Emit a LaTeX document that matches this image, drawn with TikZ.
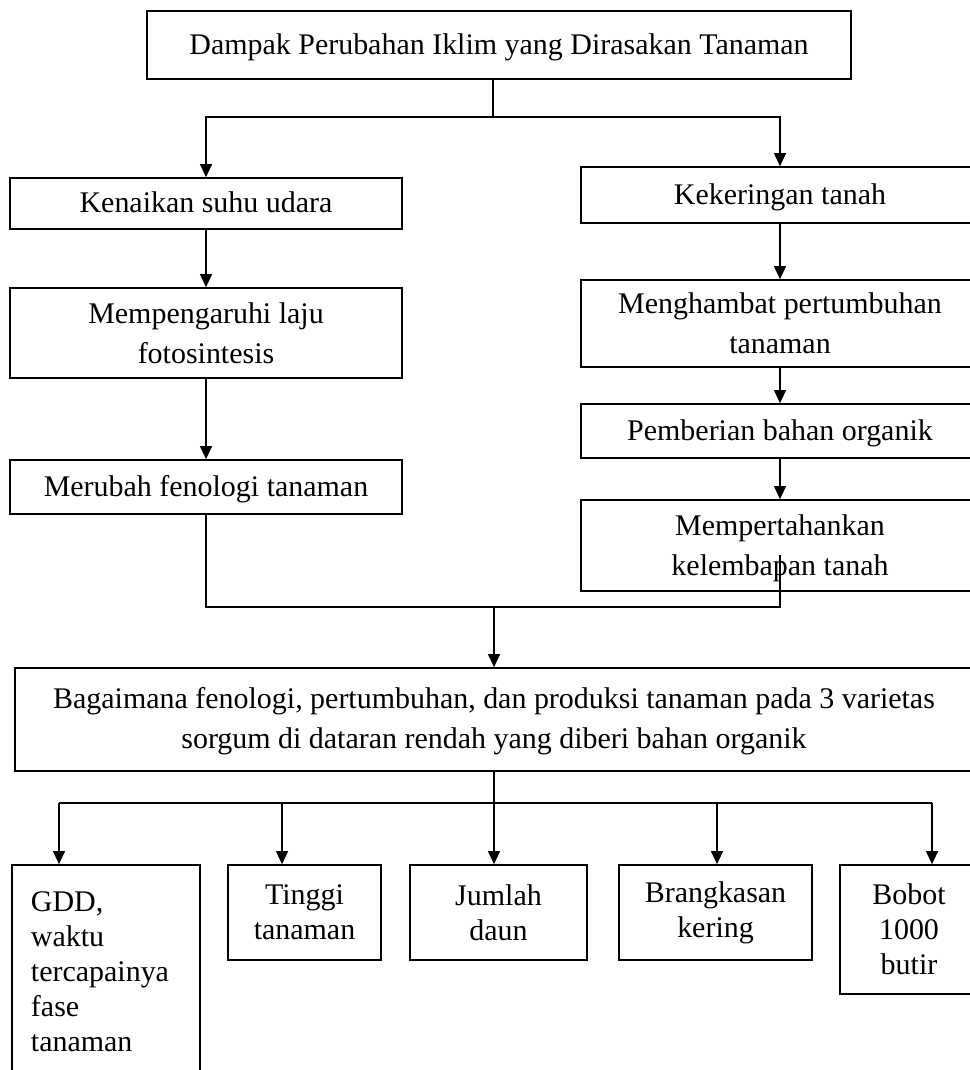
\documentclass[tikz,border=0pt]{standalone}
\usepackage{fontspec}
\setmainfont{Liberation Serif}
\usetikzlibrary{arrows.meta}
\usetikzlibrary{positioning}

\begin{document}
\begin{tikzpicture}[x=0.025cm, y=-0.025cm, line width=1.1pt]
	\useasboundingbox (0,0) rectangle (969,1070);
	\begin{scope}[every node/.style={draw, rectangle, inner sep=0pt, align=center, text depth=0.06cm,
	              font=\fontsize{21.3pt}{28.45pt}\selectfont}]
		\node[minimum width=17.6cm, minimum height=1.7cm] (dampak) at (499,45) {Dampak Perubahan Iklim yang Dirasakan Tanaman};
		% kolom kiri
		\node[minimum width=9.8cm, minimum height=1.275cm] (kenaikan) at (206,203.5) {Kenaikan suhu udara};
		\node[minimum width=9.8cm, minimum height=2.25cm, text depth=-0.09cm] (laju) at (206,333) {Mempengaruhi laju\\fotosintesis};
		\node[minimum width=9.8cm, minimum height=1.35cm] (fenologi) at (206,487) {Merubah fenologi tanaman};
		% kolom kanan
		\node[minimum width=9.95cm, minimum height=1.4cm] (kering) at (780,195) {Kekeringan tanah};
		\node[minimum width=9.95cm, minimum height=2.175cm, text depth=-0.09cm] (hambat) at (780,323.5) {Menghambat pertumbuhan\\tanaman};
		\node[minimum width=9.95cm, minimum height=1.35cm] (organik) at (780,431) {Pemberian bahan organik};
		\node[minimum width=9.95cm, minimum height=2.275cm, text depth=-0.12cm] (lembab) at (780,545.5) {Mempertahankan\\kelembapan tanah};
		% pertanyaan
		\node[minimum width=23.95cm, minimum height=2.575cm, text depth=0.1cm] (tanya) at (494,719.5) {Bagaimana fenologi, pertumbuhan, dan produksi tanaman pada 3 varietas\\sorgum di dataran rendah yang diberi bahan organik};
	\end{scope}

	\begin{scope}[every node/.style={draw, rectangle, inner sep=0pt, align=center,
	              font=\fontsize{21.3pt}{24.9pt}\selectfont}]
		\node[minimum width=4.7cm, minimum height=5.325cm, text width=3.75cm, align=left] (gdd) at (106,971.5) {GDD,\\waktu\\tercapainya\\fase\\tanaman};
		\node[minimum width=3.825cm, minimum height=2.375cm] (tinggi) at (304.5,912.5) {Tinggi\\tanaman};
		\node[minimum width=4.425cm, minimum height=2.375cm] (daun) at (498.5,912.5) {Jumlah\\daun};
		\node[minimum width=4.825cm, minimum height=2.375cm] (brangkas) at (715.5,912.5) {Brangkasan\\kering};
		\node[minimum width=3.45cm, minimum height=3.225cm] (bobot) at (909,929.5) {Bobot\\1000\\butir};
	\end{scope}

	\coordinate (split) at (493,117);
	\coordinate (merge) at (780,607);
	\coordinate (stub) at (780,555);
	\coordinate (b1) at (59,803);
	\coordinate (b2) at (282,803);
	\coordinate (b4) at (717,803);
	\coordinate (b5) at (932,803);

	\begin{scope}[>={Triangle[width=0.3cm, length=0.33cm]}]
		\draw (dampak.south -| split) -- (split);
		\draw[->] (split) -| (kenaikan.north);
		\draw[->] (split) -| (kering.north);
		\draw[->] (kenaikan) -- (laju);
		\draw[->] (laju) -- (fenologi);
		\draw[->] (kering) -- (hambat);
		\draw[->] (hambat) -- (organik);
		\draw[->] (organik) -- (lembab);
		\draw (fenologi.south) |- (merge) -- (stub);
		\draw[->] (tanya.north |- merge) -- (tanya.north);
		\draw[->] (tanya.south) -- (tanya.south |- daun.north);
		\draw (b1) -- (b5);
		\foreach \b/\n in {b1/gdd, b2/tinggi, b4/brangkas, b5/bobot}{\draw[->] (\b) -- (\b |- \n.north);}
	\end{scope}
\end{tikzpicture}
\end{document}
